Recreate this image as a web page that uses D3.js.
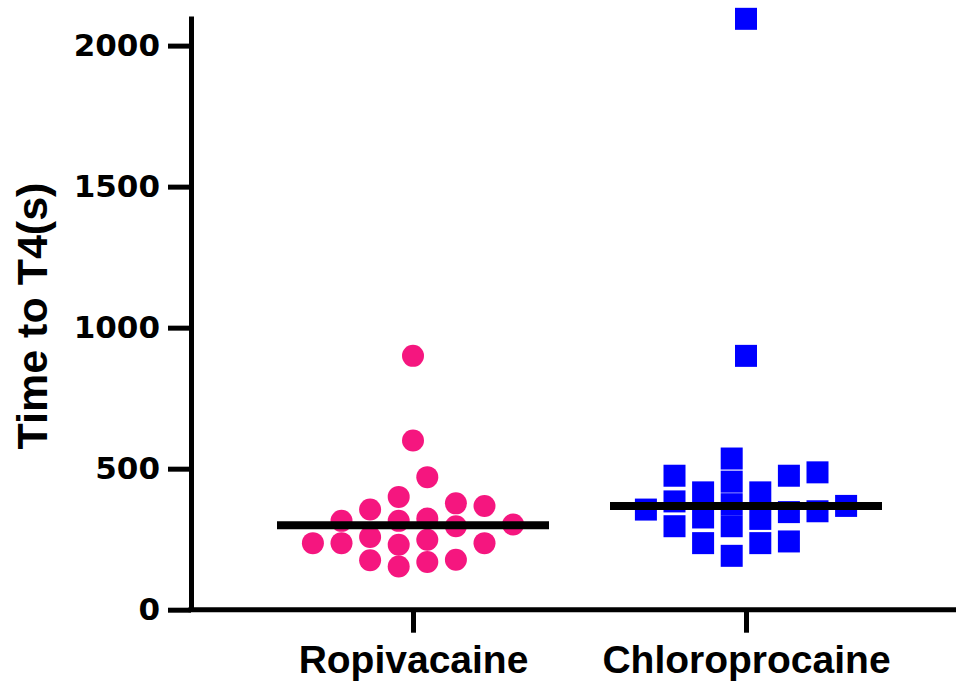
<!DOCTYPE html>
<html>
<head>
<meta charset="utf-8">
<script src="https://cdn.jsdelivr.net/npm/d3@7"></script>
<style>
  body { margin: 0; background: #fff; }
  svg { display: block; }
</style>
</head>
<body>
<div id="chart"></div>
<script>
// values (seconds)
var categories = ["Ropivacaine", "Chloroprocaine"];
var ropivacaine = [900, 600, 470, 400, 377, 368, 355, 315, 315, 302, 323, 296,
                   248, 258, 236, 230, 236, 236, 153, 175, 169, 177];
var chloroprocaine = [2095, 900, 536, 487, 475, 475, 454, 416, 416, 384, 374, 368,
                      355, 349, 346, 327, 322, 296, 296, 242, 236, 236, 191];
var yTicks = [0, 500, 1000, 1500, 2000];

var colors = ["#F5167F", "#0000FF"];

var width = 958, height = 683;
var svg = d3.select("#chart").append("svg")
    .attr("width", width)
    .attr("height", height);

var y = d3.scaleLinear().domain([0, 2105]).range([609.7, 16]);
var x = d3.scalePoint().domain(categories).range([413, 746]);

var diam = 22, step = 28.6, medianHalf = 136;

// simple column swarm: lone points sit on the centre, the rest go into half-step columns
function swarm(values) {
  var sorted = values.slice().sort(d3.ascending);
  var cols = new Map();
  var out = [];
  sorted.forEach(function(v, i) {
    var py = y(v);
    var alone = sorted.every(function(w, j) { return j === i || Math.abs(y(w) - py) >= diam; });
    if (alone) { out.push({v: v, off: 0}); return; }
    for (var k = 0; k < 40; k++) {
      var off = (k % 2 ? 1 : -1) * (Math.floor(k / 2) + 0.5);
      var last = cols.get(off);
      if (last === undefined || Math.abs(last - py) >= diam - 1) {
        cols.set(off, py);
        out.push({v: v, off: off});
        break;
      }
    }
  });
  return out;
}

// y axis
var yAxis = svg.append("g")
    .attr("transform", "translate(191,0)")
    .call(d3.axisLeft(y).tickValues(yTicks).tickFormat(d3.format("d"))
      .tickSize(23).tickSizeOuter(0).tickPadding(8));
yAxis.selectAll("path, line").attr("stroke", "#000").attr("stroke-width", 5);
yAxis.selectAll("text")
    .attr("fill", "#000")
    .style("font-family", "DejaVu Sans")
    .style("font-weight", "bold")
    .style("font-size", "31px");

// x axis
var xAxis = svg.append("g")
    .attr("transform", "translate(0," + y(0) + ")")
    .call(d3.axisBottom(x).tickSize(23).tickSizeOuter(0).tickPadding(13));
xAxis.select(".domain").remove();
xAxis.selectAll("line").attr("stroke", "#000").attr("stroke-width", 5);
xAxis.selectAll("text")
    .attr("fill", "#000")
    .style("font-family", "Liberation Sans, Arial, sans-serif")
    .style("font-weight", "bold")
    .style("font-size", "39px");
svg.append("line")
    .attr("x1", 188.5).attr("x2", 956)
    .attr("y1", y(0)).attr("y2", y(0))
    .attr("stroke", "#000").attr("stroke-width", 5);

// axis title
svg.append("text")
    .attr("transform", "translate(47,316) rotate(-90)")
    .attr("text-anchor", "middle")
    .style("font-family", "Liberation Sans, Arial, sans-serif")
    .style("font-weight", "bold")
    .style("font-size", "43px")
    .text("Time to T4(s)");

// points
var groups = [ropivacaine, chloroprocaine];
groups.forEach(function(vals, gi) {
  var cx = x(categories[gi]);
  var pts = swarm(vals);
  var g = svg.append("g").attr("fill", colors[gi]);
  if (gi === 0) {
    g.selectAll("circle").data(pts).enter().append("circle")
      .attr("cx", function(d) { return cx + d.off * step; })
      .attr("cy", function(d) { return y(d.v); })
      .attr("r", diam / 2);
  } else {
    g.selectAll("rect").data(pts).enter().append("rect")
      .attr("x", function(d) { return cx + d.off * step - diam / 2; })
      .attr("y", function(d) { return y(d.v) - diam / 2; })
      .attr("width", diam)
      .attr("height", diam);
  }
  // median line
  var med = d3.median(vals);
  svg.append("line")
    .attr("x1", cx - medianHalf).attr("x2", cx + medianHalf)
    .attr("y1", y(med)).attr("y2", y(med))
    .attr("stroke", "#000").attr("stroke-width", 8);
});
</script>
</body>
</html>
